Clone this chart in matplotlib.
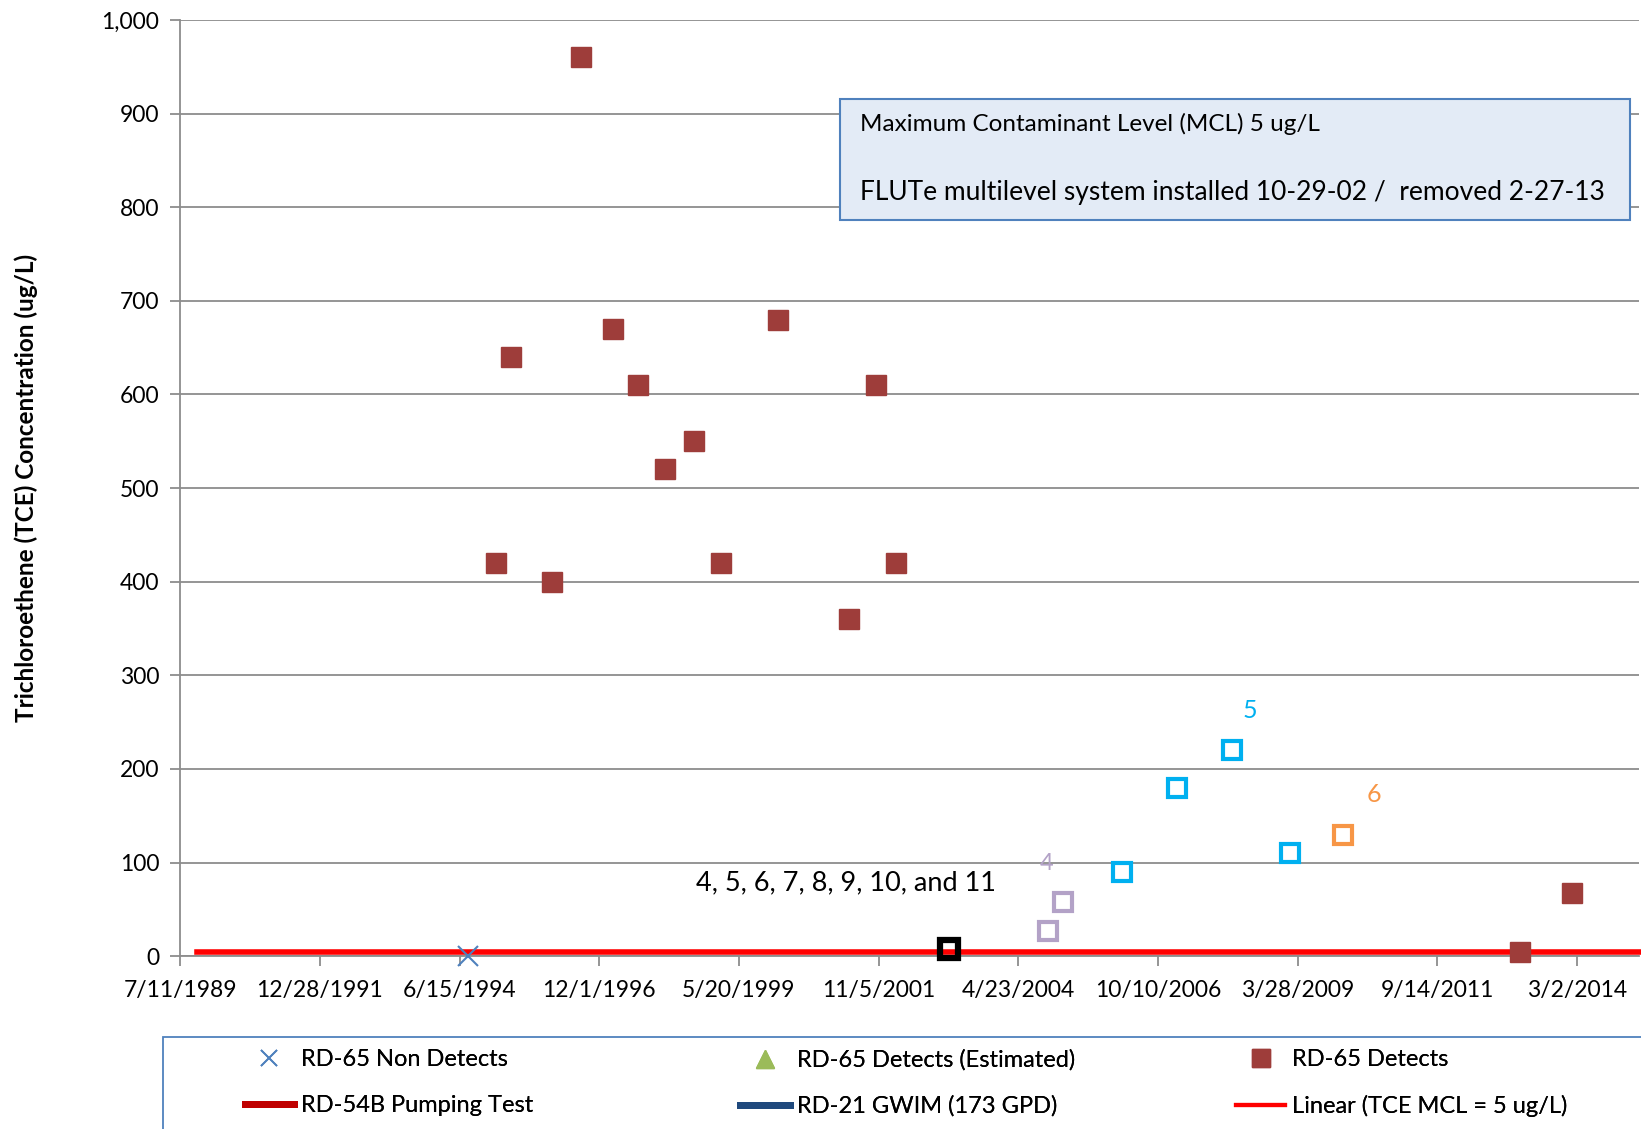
import datetime as dt
import numpy as np
import matplotlib
matplotlib.use("Agg")
import matplotlib.pyplot as plt
from matplotlib.lines import Line2D
from matplotlib.patches import Rectangle
from matplotlib.ticker import FuncFormatter

plt.rcParams['font.family'] = ['Lato', 'DejaVu Sans']

# RD-65 non detects
nd_dates = ["1994-08-10"]
nd_vals = [0]

# RD-65 detects
det_dates = ["1995-02-05", "1995-05-10", "1996-01-30", "1996-08-05", "1997-02-25",
             "1997-08-10", "1998-01-28", "1998-08-05", "1999-01-25", "2000-01-28",
             "2001-05-01", "2001-10-22", "2002-02-25", "2013-03-01", "2014-02-01"]
det_vals = [420, 640, 400, 960, 670, 610, 520, 550, 420, 680, 360, 610, 420, 5, 68]

# FLUTe ports
port_all_dates = ["2003-02-01"]
port_all_vals = [8]
port4_dates = ["2004-11-01", "2005-02-05"]
port4_vals = [27, 58]
port5_dates = ["2006-02-20", "2007-02-10", "2008-02-01", "2009-02-05"]
port5_vals = [90, 180, 220, 110]
port6_dates = ["2010-01-15"]
port6_vals = [130]

# linear MCL line
mcl_dates = ["1989-10-27", "2016-01-01"]
mcl_vals = [5, 5]

tick_start = dt.date(1989, 7, 11)
tick_labels = ["7/11/1989", "12/28/1991", "6/15/1994", "12/1/1996", "5/20/1999",
               "11/5/2001", "4/23/2004", "10/10/2006", "3/28/2009", "9/14/2011", "3/2/2014"]


def d(lst):
    return [dt.datetime.strptime(s, "%Y-%m-%d") for s in lst]


fig = plt.figure(figsize=(16.41, 11.29), dpi=100)
ax = fig.add_axes([0.1098, 0.153, 0.889, 0.8294])

grid_c = "#8c8c8c"
ax.set_ylim(0, 1000)
ax.set_yticks(np.arange(0, 1001, 100))
ax.yaxis.set_major_formatter(FuncFormatter(lambda v, p: f"{int(v):,}"))
ax.grid(axis='y', color=grid_c, lw=1.3)
ax.set_axisbelow(True)

ticks = [tick_start + dt.timedelta(days=900 * i) for i in range(len(tick_labels))]
ax.set_xticks(ticks)
ax.set_xticklabels(tick_labels)
ax.set_xlim(tick_start, tick_start + dt.timedelta(days=9400))

for s in ["top", "right"]:
    ax.spines[s].set_visible(False)
for s in ["left", "bottom"]:
    ax.spines[s].set_color(grid_c)
    ax.spines[s].set_linewidth(1.3)
ax.tick_params(axis='both', colors=grid_c, length=7, width=1.3, labelcolor='black',
               labelsize=16.5)
ax.tick_params(axis='x', pad=10)
ax.tick_params(axis='y', pad=8)

ax.set_ylabel("Trichloroethene (TCE) Concentration (ug/L)", fontsize=17.5,
              fontweight='bold', labelpad=46)

ax.plot(d(mcl_dates), mcl_vals, color="#ff0000", lw=4, clip_on=False, zorder=3)

ax.plot(d(nd_dates), nd_vals, ls='none', marker='x', color="#4f81bd",
        ms=14, mew=1.5, clip_on=False, zorder=4)
ax.plot(d(det_dates), det_vals, ls='none', marker='s', color="#9e3d3a",
        ms=14.5, zorder=5, clip_on=False)
ax.plot(d(port_all_dates), port_all_vals, ls='none', marker='s', mfc='none',
        mec='black', ms=13, mew=4.5, zorder=6, clip_on=False)
ax.plot(d(port4_dates), port4_vals, ls='none', marker='s', mfc='none',
        mec="#b3a2c7", ms=13, mew=3, zorder=5)
ax.plot(d(port5_dates), port5_vals, ls='none', marker='s', mfc='none',
        mec="#00b0f0", ms=13, mew=3, zorder=5)
ax.plot(d(port6_dates), port6_vals, ls='none', marker='s', mfc='none',
        mec="#f79646", ms=13, mew=3, zorder=5)

ax.text(dt.datetime(2001, 4, 10), 78, "4, 5, 6, 7, 8, 9, 10, and 11", fontsize=19.5,
        ha='center', va='center')
ax.text(dt.datetime(2004, 10, 20), 99, "4", fontsize=17, color="#b3a2c7",
        ha='center', va='center')
ax.text(dt.datetime(2008, 5, 25), 262, "5", fontsize=18, color="#00b0f0",
        ha='center', va='center')
ax.text(dt.datetime(2010, 7, 30), 173, "6", fontsize=18, color="#f79646",
        ha='center', va='center')

# note box
ax.add_patch(Rectangle((0.452, 0.786), 0.5415, 0.13, transform=ax.transAxes,
                       facecolor="#e3ebf6", edgecolor="#4f81bd", lw=1.5, zorder=7))
ax.text(0.466, 0.8885, "Maximum Contaminant Level (MCL) 5 ug/L", transform=ax.transAxes,
        fontsize=17.5, va='center', zorder=8)
ax.text(0.466, 0.8155, "FLUTe multilevel system installed 10-29-02 /  removed 2-27-13",
        transform=ax.transAxes, fontsize=19, va='center', zorder=8)

# legend: frame plus three one-column legends
fig.patches.append(Rectangle((0.0996, -0.05), 0.95, 0.1316, transform=fig.transFigure,
                             facecolor='white', edgecolor="#4f81bd", lw=1.3))
handles = [
    Line2D([], [], ls='none', marker='x', color="#4f81bd", ms=12, mew=1.3),
    Line2D([], [], color="#c00000", lw=5),
    Line2D([], [], ls='none', marker='^', color="#9bbb59", ms=13),
    Line2D([], [], color="#1f497d", lw=5),
    Line2D([], [], ls='none', marker='s', color="#9e3d3a", ms=13),
    Line2D([], [], color="#ff0000", lw=3),
]
labels = ["RD-65 Non Detects", "RD-54B Pumping Test", "RD-65 Detects (Estimated)",
          "RD-21 GWIM (173 GPD)", "RD-65 Detects", "Linear (TCE MCL = 5 ug/L)"]
col_x = [0.1433, 0.4453, 0.7473]
for i, x0 in enumerate(col_x):
    leg = fig.legend(handles[2 * i:2 * i + 2], labels[2 * i:2 * i + 2], frameon=False,
                     fontsize=17, loc='upper left', bbox_to_anchor=(x0, 0.079),
                     handlelength=2.1, handletextpad=0.3, labelspacing=1.05,
                     borderaxespad=0)
    fig.add_artist(leg)

fig.savefig("out.png", dpi=100)
